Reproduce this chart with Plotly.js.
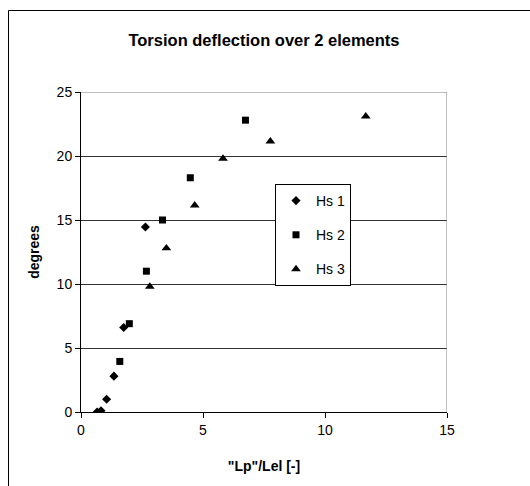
<!DOCTYPE html>
<html>
<head>
<meta charset="utf-8">
<script src="https://cdn.plot.ly/plotly-3.0.1.min.js"></script>
<style>
  html, body { margin: 0; padding: 0; background: #fff; }
  #chart { width: 530px; height: 486px; }
</style>
</head>
<body>
<div id="chart"></div>
<script>
// Data
var hs1X = [0.66, 0.82, 1.05, 1.35, 1.75, 2.64];
var hs1Y = [0.0, 0.1, 1.0, 2.8, 6.6, 14.45];

var hs2X = [1.59, 1.98, 2.68, 3.34, 4.48, 6.74];
var hs2Y = [3.95, 6.9, 11.0, 15.0, 18.3, 22.8];

var hs3X = [2.82, 3.5, 4.66, 5.82, 7.76, 11.67];
var hs3Y = [9.8, 12.8, 16.15, 19.8, 21.15, 23.1];

var seriesNames = ["Hs 1", "Hs 2", "Hs 3"];
var xTicks = [0, 5, 10, 15];
var yTicks = [0, 5, 10, 15, 20, 25];

var FONT = "Arial, 'Liberation Sans', Helvetica, sans-serif";

var traces = [
  {x: hs1X, y: hs1Y, name: seriesNames[0], legendgroup: "a", mode: "markers", type: "scatter",
   marker: {symbol: "diamond", size: 7, color: "#000"}},
  {x: hs2X, y: hs2Y, name: seriesNames[1], legendgroup: "b", mode: "markers", type: "scatter",
   marker: {symbol: "square", size: 7, color: "#000"}},
  {x: hs3X, y: hs3Y, name: seriesNames[2], legendgroup: "c", mode: "markers", type: "scatter",
   marker: {symbol: "triangle-up", size: 8.5, color: "#000"}}
];

var L = 81, R = 83, T = 92, B = 74;
var plotW = 530 - L - R, plotH = 486 - T - B;

var layout = {
  width: 530, height: 486,
  margin: {l: L, r: R, t: T, b: B, pad: 0},
  paper_bgcolor: "#fff", plot_bgcolor: "#fff",
  font: {family: FONT, size: 14, color: "#000"},
  title: {text: "<b>Torsion deflection over 2 elements</b>", font: {family: FONT, size: 16.5, color: "#000"},
          x: 0.5, xref: "paper", y: 1 - 40 / 486, yanchor: "middle"},
  xaxis: {
    range: [0, 15], tickvals: xTicks, ticktext: xTicks.map(String),
    showgrid: false, zeroline: false,
    showline: true, linecolor: "#000", linewidth: 1,
    ticks: "outside", ticklen: 5, tickcolor: "#000", tickwidth: 1,
    tickfont: {family: FONT, size: 14, color: "#000"},
    title: {text: "<b>\"Lp\"/Lel [-]</b>", font: {family: FONT, size: 14, color: "#000"}, standoff: 24},
    fixedrange: true
  },
  yaxis: {
    range: [0, 25], tickvals: yTicks, ticktext: yTicks.map(String),
    showgrid: true, gridcolor: "#333", gridwidth: 1, zeroline: false,
    showline: true, linecolor: "#000", linewidth: 1,
    ticks: "outside", ticklen: 5, tickcolor: "#000", tickwidth: 1,
    tickfont: {family: FONT, size: 14, color: "#000"},
    title: {text: "<b>degrees</b>", font: {family: FONT, size: 14, color: "#000"}, standoff: 13},
    fixedrange: true
  },
  legend: {
    x: (275 - L) / plotW, y: (486 - B - 184) / plotH, xanchor: "left", yanchor: "top",
    bgcolor: "#fff", bordercolor: "#000", borderwidth: 1,
    font: {family: FONT, size: 14, color: "#000"},
    tracegroupgap: 13, itemwidth: 30
  },
  showlegend: true,
  shapes: [
    // plot-area border (gray) on top and right
    {type: "line", xref: "x", yref: "y", x0: 15, x1: 15, y0: 0, y1: 25, line: {color: "#808080", width: 1}},
    {type: "line", xref: "x", yref: "y", x0: 0, x1: 15, y0: 25, y1: 25, line: {color: "#808080", width: 1}},
    // outer chart border
    {type: "rect", xref: "paper", yref: "paper",
     x0: (8.5 - L) / plotW, x1: (540 - L) / plotW,
     y0: (486 - B - 500) / plotH, y1: (486 - B - 10.5) / plotH,
     line: {color: "#000", width: 1}, fillcolor: "rgba(0,0,0,0)"}
  ]
};

Plotly.newPlot("chart", traces, layout, {displayModeBar: false, staticPlot: true});
</script>
</body>
</html>
